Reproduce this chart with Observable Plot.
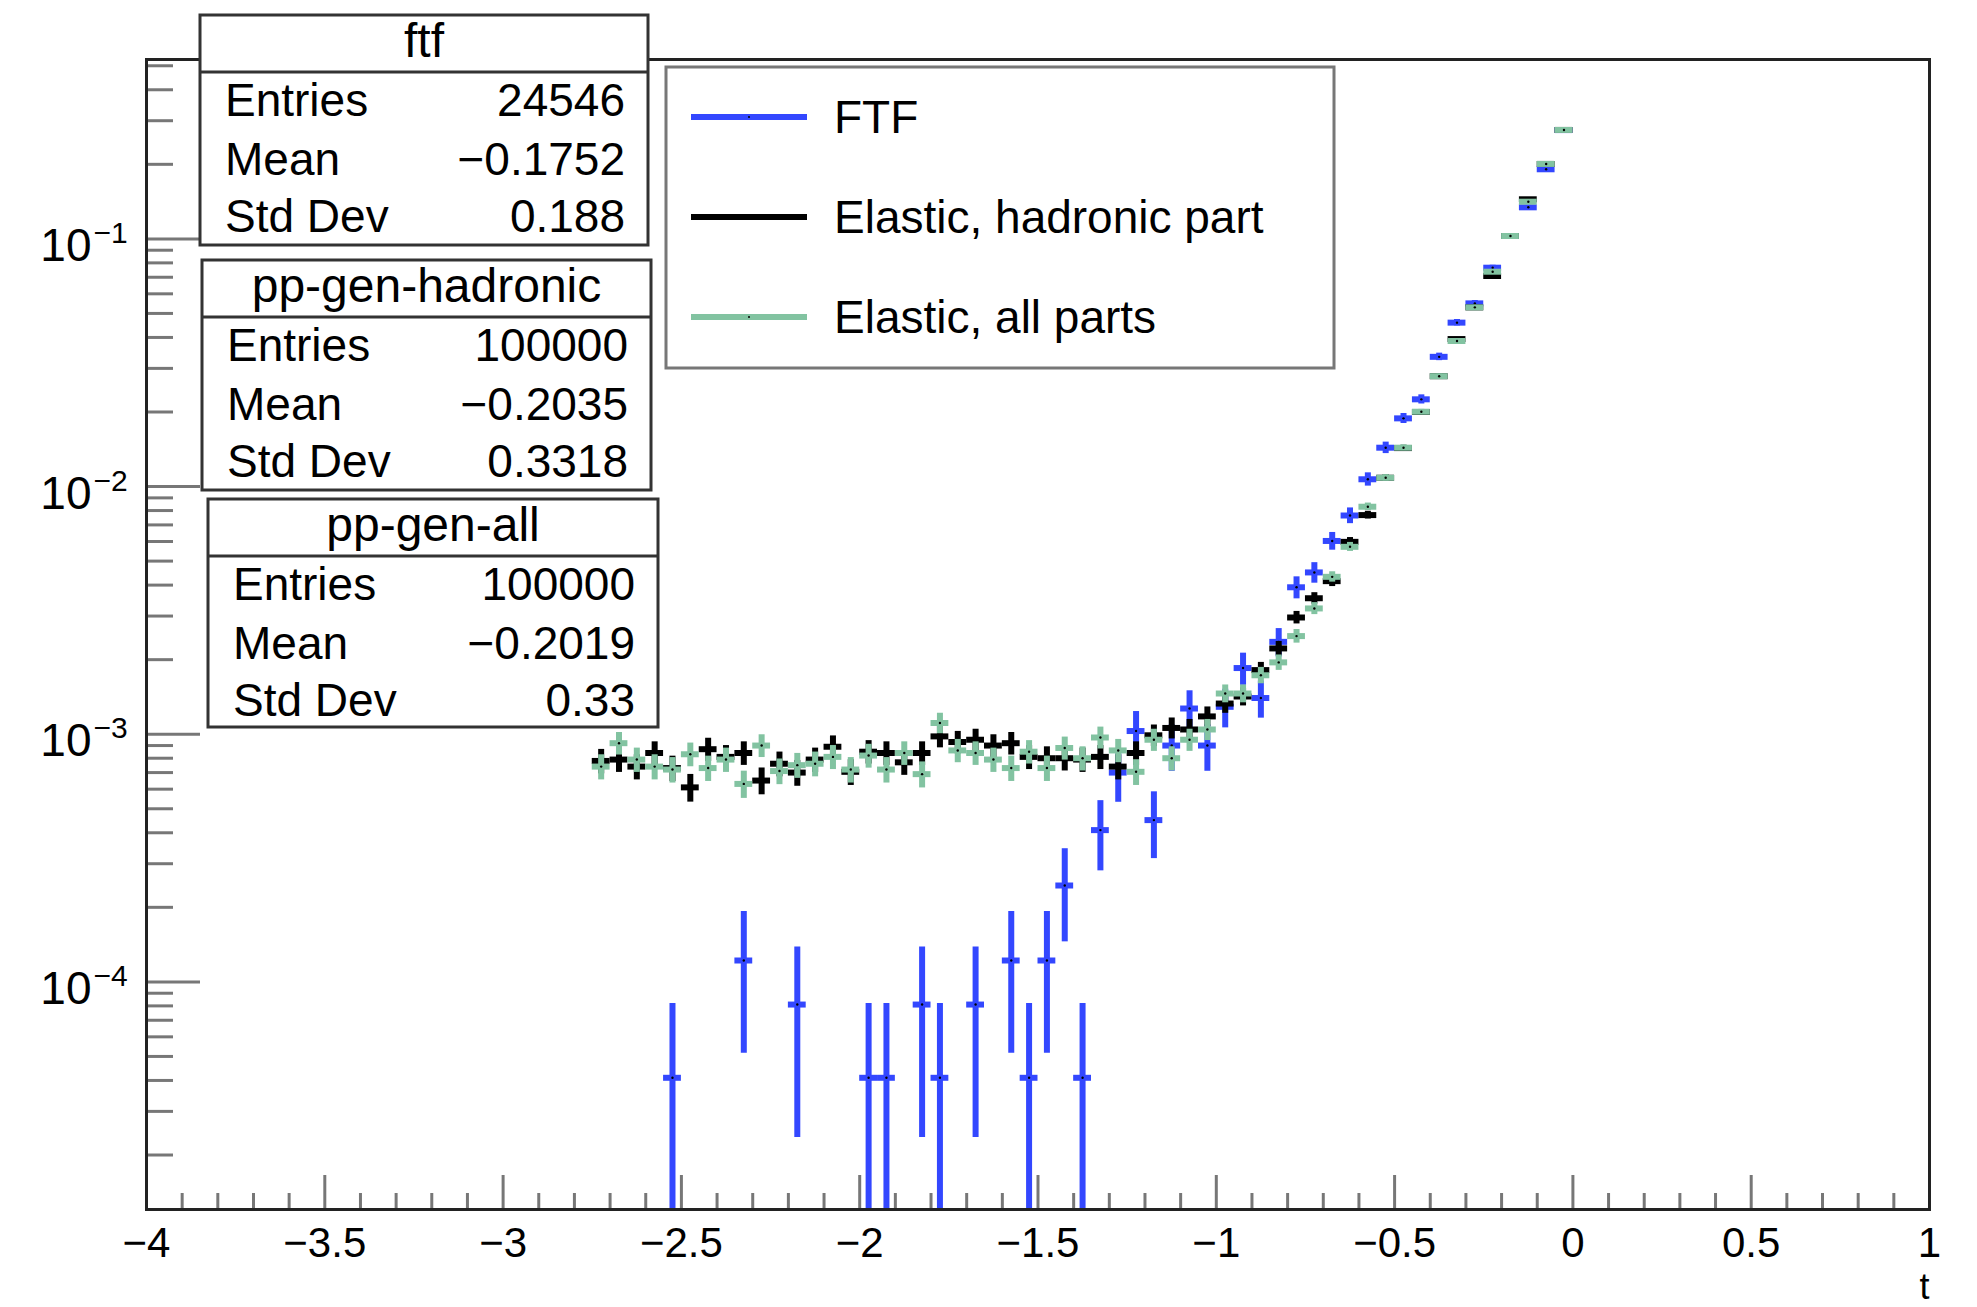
<!DOCTYPE html>
<html><head><meta charset="utf-8">
<script src="https://cdn.jsdelivr.net/npm/d3@7"></script>
<script src="https://cdn.jsdelivr.net/npm/@observablehq/plot@0.6"></script>
<style>
html,body{margin:0;padding:0;background:#fff;}
#wrap{position:relative;width:1977px;height:1307px;overflow:hidden;background:#fff;}
#wrap svg{position:absolute;left:0;top:0;}
</style></head><body><div id="wrap"></div>
<script>
const FONT = "'Liberation Sans', Arial, Helvetica, sans-serif";

// ---- data ----
const binWidth = 0.05;
const ppBinCenters = [-2.725,-2.675,-2.625,-2.575,-2.525,-2.475,-2.425,-2.375,-2.325,-2.275,
  -2.225,-2.175,-2.125,-2.075,-2.025,-1.975,-1.925,-1.875,-1.825,-1.775,
  -1.725,-1.675,-1.625,-1.575,-1.525,-1.475,-1.425,-1.375,-1.325,-1.275,
  -1.225,-1.175,-1.125,-1.075,-1.025,-0.975,-0.925,-0.875,-0.825,-0.775,
  -0.725,-0.675,-0.625,-0.575,-0.525,-0.475,-0.425,-0.375,-0.325,-0.275,
  -0.225,-0.175,-0.125,-0.075,-0.025];
const hadronicValues = [7.8e-4,7.9e-4,7.4e-4,8.4e-4,7.3e-4,6.1e-4,8.7e-4,8.1e-4,8.4e-4,6.5e-4,
  7.6e-4,7.0e-4,7.9e-4,8.9e-4,7.05e-4,8.5e-4,8.4e-4,7.7e-4,8.4e-4,9.8e-4,
  9.3e-4,9.5e-4,9.0e-4,9.2e-4,8.1e-4,8.0e-4,8.0e-4,7.9e-4,8.1e-4,7.4e-4,
  8.4e-4,9.9e-4,1.06e-3,1.045e-3,1.18e-3,1.33e-3,1.42e-3,1.815e-3,2.22e-3,2.96e-3,
  3.54e-3,4.15e-3,5.98e-3,7.67e-3,1.085e-2,1.43e-2,2.0e-2,2.79e-2,3.94e-2,5.29e-2,
  7.08e-2,0.1027,0.1445,0.2007,0.2753];
const allPartsValues = [7.4e-4,9.2e-4,7.9e-4,7.4e-4,7.2e-4,8.3e-4,7.3e-4,7.9e-4,6.3e-4,9.0e-4,
  7.1e-4,7.5e-4,7.6e-4,8.1e-4,7.2e-4,8.2e-4,7.2e-4,8.4e-4,6.9e-4,1.11e-3,
  8.6e-4,8.4e-4,7.9e-4,7.3e-4,8.5e-4,7.3e-4,8.8e-4,8.0e-4,9.7e-4,8.6e-4,
  7.05e-4,9.5e-4,8.0e-4,9.5e-4,1.045e-3,1.46e-3,1.46e-3,1.73e-3,1.95e-3,2.49e-3,
  3.22e-3,4.32e-3,5.71e-3,8.29e-3,1.085e-2,1.435e-2,2.005e-2,2.79e-2,3.87e-2,5.29e-2,
  7.37e-2,0.1027,0.1413,0.2007,0.2753];
const ftfBinCenters = [-2.525,-2.325,-2.175,-1.975,-1.925,-1.825,-1.775,-1.675,-1.575,-1.525,
  -1.475,-1.425,-1.375,-1.325,-1.275,-1.225,-1.175,-1.125,-1.075,-1.025,
  -0.975,-0.925,-0.875,-0.825,-0.775,-0.725,-0.675,-0.625,-0.575,-0.525,
  -0.475,-0.425,-0.375,-0.325,-0.275,-0.225,-0.175,-0.125,-0.075,-0.025];
const ftfValues = [4.1e-5,1.22e-4,8.1e-5,4.1e-5,4.1e-5,8.1e-5,4.1e-5,8.1e-5,1.22e-4,4.1e-5,
  1.22e-4,2.45e-4,4.1e-5,4.1e-4,7.0e-4,1.03e-3,4.5e-4,9.0e-4,1.27e-3,9.0e-4,
  1.29e-3,1.85e-3,1.40e-3,2.36e-3,3.92e-3,4.50e-3,6.03e-3,7.64e-3,1.07e-2,1.435e-2,
  1.885e-2,2.25e-2,3.34e-2,4.59e-2,5.49e-2,7.65e-2,0.1027,0.1341,0.191,0.275];

// stat boxes
const statTitles = ["ftf", "pp-gen-hadronic", "pp-gen-all"];
const statEntries = [24546, 100000, 100000];
const statMeans = [-0.1752, -0.2035, -0.2019];
const statStdDevs = [0.188, 0.3318, 0.33];
// legend
const legendLabels = ["FTF", "Elastic, hadronic part", "Elastic, all parts"];
const seriesColors = ["#3347ff", "#000000", "#82c3a1"];
// axes
const xMajorTicks = [-4,-3.5,-3,-2.5,-2,-1.5,-1,-0.5,0,0.5,1];
const xTickLabels = ["\u22124","\u22123.5","\u22123","\u22122.5","\u22122","\u22121.5","\u22121","\u22120.5","0","0.5","1"];
const yDecadeExponents = [-4,-3,-2,-1];
const xDomain = [-4, 1];
const yDomain = [1.205e-5, 0.53];

// ---- layout ----
const W = 1977, H = 1307;
const mL = 146, mR = 48, mT = 59, mB = 98;
const frameW = W - mL - mR, frameH = H - mT - mB;

function series(ts, vs, N) {
  return ts.map((t, i) => {
    const v = vs[i], e = Math.sqrt(v / N);
    return {t, v, lo: Math.max(v - e, yDomain[0]), hi: v + e};
  });
}
const ftfData = series(ftfBinCenters, ftfValues, statEntries[0]);
const hadData = series(ppBinCenters, hadronicValues, statEntries[1]);
const allData = series(ppBinCenters, allPartsValues, statEntries[2]);

const xMinor = d3.range(-40, 11).map(k => k / 10).filter(v => Math.abs(v * 2 - Math.round(v * 2)) > 1e-9);
const yMajor = yDecadeExponents.map(e => 10 ** e);
const yMinor = [];
for (let e = -5; e <= -1; e++) for (let m = 2; m <= 9; m++) {
  const v = m * 10 ** e; if (v > yDomain[0] && v < yDomain[1]) yMinor.push(v);
}

function errMarks(data, color) {
  return [
    Plot.ruleX(data, {x: "t", y1: "lo", y2: "hi", stroke: color, strokeWidth: 6, clip: true}),
    Plot.ruleY(data, {y: "v", x1: d => d.t - binWidth / 2, x2: d => d.t + binWidth / 2, stroke: color, strokeWidth: 6, clip: true}),
    Plot.dot(data, {x: "t", y: "v", r: 1.2, fill: "#000", stroke: null})
  ];
}

const tickColor = "#777";
const chart = Plot.plot({
  width: W, height: H,
  marginLeft: mL, marginRight: mR, marginTop: mT, marginBottom: mB,
  x: {domain: xDomain, axis: null},
  y: {type: "log", domain: yDomain, axis: null},
  style: {fontFamily: FONT, background: "white", overflow: "visible", color: "#000"},
  marks: [
    Plot.ruleX(xMajorTicks, {x: d => d, insetTop: frameH - 34, stroke: tickColor, strokeWidth: 3}),
    Plot.ruleX(xMinor, {x: d => d, insetTop: frameH - 16, stroke: tickColor, strokeWidth: 3}),
    Plot.ruleY(yMajor, {y: d => d, insetRight: frameW - 54, stroke: tickColor, strokeWidth: 3}),
    Plot.ruleY(yMinor, {y: d => d, insetRight: frameW - 27, stroke: tickColor, strokeWidth: 3}),
    ...errMarks(ftfData, seriesColors[0]),
    ...errMarks(hadData, seriesColors[1]),
    ...errMarks(allData, seriesColors[2]),
    Plot.frame({stroke: "#222", strokeWidth: 3}),
    Plot.text(xMajorTicks, {x: d => d, frameAnchor: "bottom", text: (d, i) => xTickLabels[i],
      lineAnchor: "bottom", dy: 47, fontSize: 42, fill: "#000"}),
    Plot.text(["t"], {frameAnchor: "bottom-right", text: d => d, textAnchor: "end",
      lineAnchor: "bottom", dy: 89, dx: 0, fontSize: 36, fill: "#000"}),
    Plot.text(yMajor, {y: d => d, frameAnchor: "left", text: () => "10", textAnchor: "end",
      lineAnchor: "bottom", dx: -55, dy: 22, fontSize: 46, fill: "#000"}),
    Plot.text(yDecadeExponents, {y: e => 10 ** e, frameAnchor: "left", text: e => "\u2212" + Math.abs(e),
      textAnchor: "start", lineAnchor: "bottom", dx: -53, dy: 4, fontSize: 30, fill: "#000"})
  ]
});
const wrap = document.getElementById("wrap");
wrap.appendChild(chart);

// ---- overlay: stat boxes and legend ----
const ov = d3.select(wrap).append("svg").attr("width", W).attr("height", H)
  .style("font-family", FONT).style("pointer-events", "none");

const statBoxes = [
  {x: 200, y: 15, w: 448, h: 230},
  {x: 202, y: 260, w: 449, h: 230},
  {x: 208, y: 499, w: 450, h: 228}
];
const fmt = v => (v < 0 ? "\u2212" + String(-v) : String(v));
statBoxes.forEach((b, i) => {
  const g = ov.append("g");
  g.append("rect").attr("x", b.x).attr("y", b.y).attr("width", b.w).attr("height", b.h)
    .attr("fill", "#fff").attr("stroke", "#333").attr("stroke-width", 3);
  g.append("line").attr("x1", b.x).attr("x2", b.x + b.w).attr("y1", b.y + 57).attr("y2", b.y + 57)
    .attr("stroke", "#333").attr("stroke-width", 3);
  g.append("text").attr("x", b.x + b.w / 2).attr("y", b.y + 42).attr("text-anchor", "middle")
    .attr("font-size", 48).text(statTitles[i]);
  const labels = ["Entries", "Mean", "Std Dev"];
  const vals = [String(statEntries[i]), fmt(statMeans[i]), fmt(statStdDevs[i])];
  const base = [101, 160, 217];
  labels.forEach((l, j) => {
    g.append("text").attr("x", b.x + 25).attr("y", b.y + base[j]).attr("font-size", 46).text(l);
    g.append("text").attr("x", b.x + b.w - 23).attr("y", b.y + base[j]).attr("font-size", 46)
      .attr("text-anchor", "end").text(vals[j]);
  });
});

const leg = {x: 666, y: 67, w: 668, h: 301};
const lg = ov.append("g");
lg.append("rect").attr("x", leg.x).attr("y", leg.y).attr("width", leg.w).attr("height", leg.h)
  .attr("fill", "#fff").attr("stroke", "#777").attr("stroke-width", 3);
legendLabels.forEach((name, i) => {
  const cy = leg.y + 50 + i * 100;
  lg.append("line").attr("x1", leg.x + 25).attr("x2", leg.x + 141).attr("y1", cy).attr("y2", cy)
    .attr("stroke", seriesColors[i]).attr("stroke-width", 6);
  lg.append("circle").attr("cx", leg.x + 83).attr("cy", cy).attr("r", 1).attr("fill", "#000");
  lg.append("text").attr("x", leg.x + 168).attr("y", cy + 16).attr("font-size", 46).text(name);
});
</script></body></html>
